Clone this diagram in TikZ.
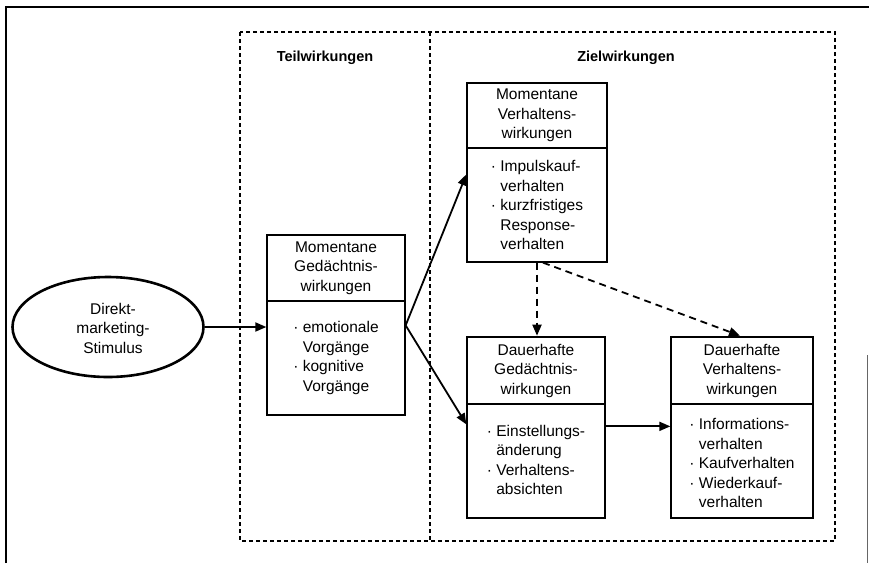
\documentclass[tikz,border=0pt]{standalone}
\usepackage{fontspec}
\setmainfont{Liberation Sans}
\usetikzlibrary{arrows.meta,shapes.geometric}
\newcommand\bul{·\ }
\newcommand\ind{\phantom{·\ }}
\begin{document}
\begin{tikzpicture}[x=1pt,y=-1pt,
  txt/.style={font=\fontsize{15.5}{19.5}\selectfont, align=center, inner sep=0pt},
  headbox/.style={draw, line width=2.6pt, minimum height=66pt, inner sep=0pt, align=center,
     font=\fontsize{15.5}{19.5}\selectfont},
  bodybox/.style={draw, line width=1.3pt, inner sep=0pt},
  bodytxt/.style={inner sep=0pt, align=left, font=\fontsize{15.5}{19.5}\selectfont},
  region/.style={line width=1.3pt, dash pattern=on 4pt off 3pt},
  arr/.style={line width=1.8pt, -{Triangle[length=11pt,width=9pt]}},
  darr/.style={line width=1.8pt, dash pattern=on 7pt off 5pt, -{Triangle[length=11pt,width=9pt]}},
  ttl/.style={font=\bfseries\fontsize{14.5}{17}\selectfont, inner sep=0pt}]
\useasboundingbox (0,0) rectangle (869,563);
\fill[white] (0,0) rectangle (869,563);
% outer frame
\draw[line width=1.5pt] (6,563) -- (6,7) -- (869,7);
\draw[line width=1pt, black!60] (867,355) -- (867,563);
% regions
\draw[region] (240,32) rectangle (835,541);
\draw[region] (430,32) -- (430,541);
\node[ttl] (teil) at (325,58) {Teilwirkungen};
\node[ttl] (ziel) at (626,58) {Zielwirkungen};
% stimulus
\node[draw, ellipse, line width=2.6pt, minimum width=191pt, minimum height=100pt, inner sep=0pt] (stim) at (108,327) {};
\node[txt] (stimtxt) at (113,328) {Direkt-\\marketing-\\Stimulus};
% MG
\node[bodybox, minimum width=138pt, minimum height=114pt] (mgb) at (336,358) {};
\node[headbox, minimum width=138pt] (mgh) at (336,268) {Momentane\\Gedächtnis-\\wirkungen};
\node[bodytxt] (mgt) at (336,358) {\bul emotionale\\\ind Vorgänge\\\bul kognitive\\\ind Vorgänge};
% MV
\node[bodybox, minimum width=140pt, minimum height=114pt] (mvb) at (537,205) {};
\node[headbox, minimum width=140pt, minimum height=65pt] (mvh) at (537,115.5) {Momentane\\Verhaltens-\\wirkungen};
\node[bodytxt] (mvt) at (537,205) {\bul Impulskauf-\\\ind verhalten\\\bul kurzfristiges\\\ind Response-\\\ind verhalten};
% DG
\node[bodybox, minimum width=138pt, minimum height=114pt] (dgb) at (536,461) {};
\node[headbox, minimum width=138pt, minimum height=67pt] (dgh) at (536,370.5) {Dauerhafte\\Gedächtnis-\\wirkungen};
\node[bodytxt] (dgt) at (536,460) {\bul Einstellungs-\\\ind änderung\\\bul Verhaltens-\\\ind absichten};
% DV
\node[bodybox, minimum width=142pt, minimum height=114pt] (dvb) at (742,461) {};
\node[headbox, minimum width=142pt, minimum height=67pt] (dvh) at (742,370.5) {Dauerhafte\\Verhaltens-\\wirkungen};
\node[bodytxt] (dvt) at (742,463) {\bul Informations-\\\ind verhalten\\\bul Kaufverhalten\\\bul Wiederkauf-\\\ind verhalten};
% connectors
\draw[arr] (stim.east) -- (stim.east -| mgb.west);
\coordinate (fork) at ([yshift=-25pt]mgb.north east);
\draw[arr] (fork) -- ([yshift=-27pt]mvb.north west);
\draw[arr] (fork) -- ([yshift=-21pt]dgb.north west);
\coordinate (dgout) at ([yshift=-23pt]dgb.north east);
\draw[arr] (dgout) -- (dgout -| dvb.west);
\draw[darr] (mvb.south) -- (mvb.south |- dgh.north);
\draw[darr] ([xshift=6pt]mvb.south) -- ([xshift=-2pt]dvh.north);
\end{tikzpicture}
\end{document}
